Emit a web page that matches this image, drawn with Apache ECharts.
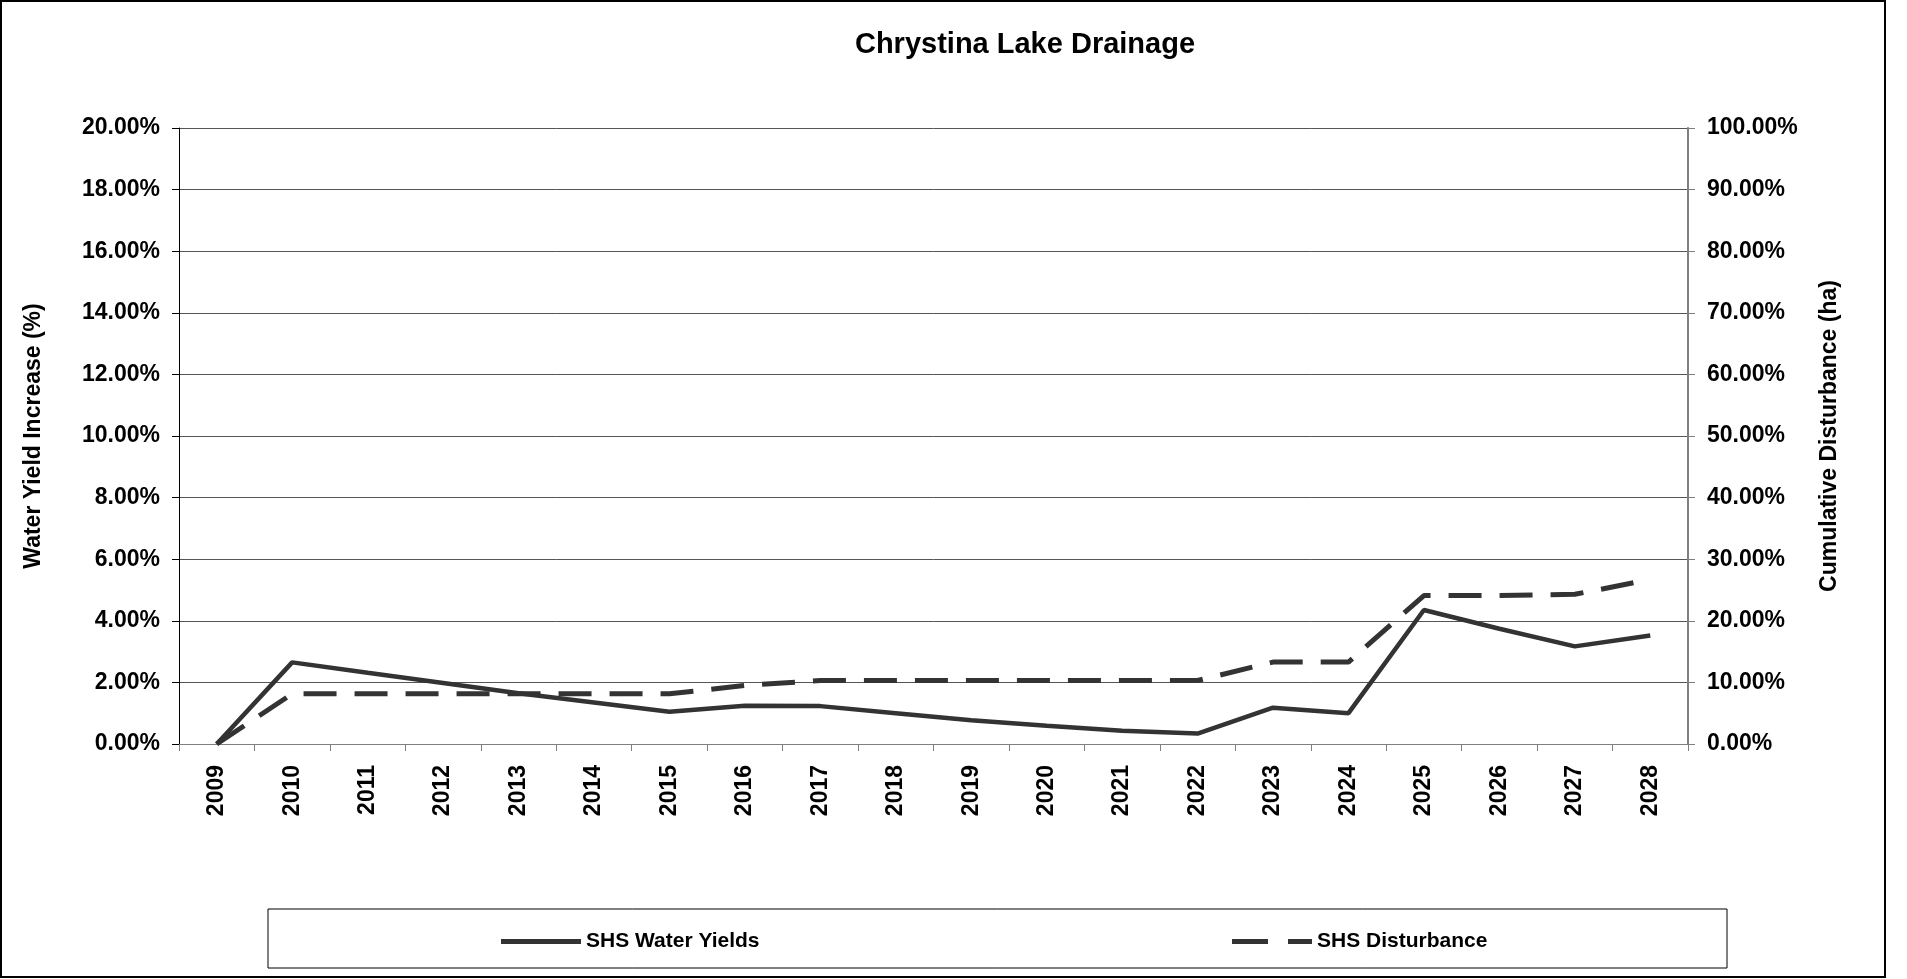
<!DOCTYPE html>
<html>
<head>
<meta charset="utf-8">
<script src="https://cdn.jsdelivr.net/npm/echarts@6/dist/echarts.min.js"></script>
<style>
html,body{margin:0;padding:0;background:#fff;}
#chart{width:1907px;height:979px;}
</style>
</head>
<body>
<div id="chart"></div>
<script>
const years = ['2009','2010','2011','2012','2013','2014','2015','2016','2017','2018','2019','2020','2021','2022','2023','2024','2025','2026','2027','2028'];
const waterYields = [0, 2.65, 2.31, 1.98, 1.65, 1.35, 1.05, 1.24, 1.23, 1.0, 0.77, 0.59, 0.43, 0.34, 1.18, 1.0, 4.35, 3.74, 3.17, 3.52];
const disturbance = [0, 8.15, 8.15, 8.15, 8.15, 8.15, 8.15, 9.5, 10.3, 10.3, 10.3, 10.3, 10.3, 10.3, 13.3, 13.3, 24.1, 24.1, 24.3, 26.7];
const leftTicks = {min: 0, max: 20, interval: 2};
const rightTicks = {min: 0, max: 100, interval: 10};

const FONT = '"Liberation Sans", Arial, sans-serif';
const chart = echarts.init(document.getElementById('chart'), null, {renderer: 'canvas'});
const lineColor = '#333333';
const legendText = {fontFamily: FONT, fontWeight: 'bold', fontSize: 21, color: '#000'};

chart.setOption({
  animation: false,
  backgroundColor: '#ffffff',
  graphic: [
    {type: 'rect', shape: {x: 1, y: 1, width: 1884, height: 976}, style: {fill: 'none', stroke: '#000', lineWidth: 2}, z: -1},
    {type: 'rect', shape: {x: 268, y: 909, width: 1459, height: 59}, style: {fill: '#fff', stroke: '#000', lineWidth: 1}, z: -1},
    {type: 'text', x: 1025, y: 45, style: {text: 'Chrystina Lake Drainage', font: 'bold 29px ' + FONT, fill: '#000', textAlign: 'center', textVerticalAlign: 'middle'}}
  ],
  legend: [
    {data: [{name: 'SHS Water Yields', icon: 'rect', itemStyle: {color: lineColor, borderWidth: 0}}],
     left: 501, top: 931, padding: 0, itemWidth: 80, itemHeight: 5, itemGap: 5, textStyle: legendText},
    {data: [{name: 'SHS Disturbance', icon: 'path://M0,0H36V5H0ZM56,0H80V5H56Z', itemStyle: {color: lineColor, borderColor: lineColor, borderWidth: 0, opacity: 1}}],
     left: 1232, top: 931, padding: 0, itemWidth: 80, itemHeight: 5, itemGap: 5, textStyle: legendText}
  ],
  grid: {left: 179, right: 219, top: 128, bottom: 235, containLabel: false},
  xAxis: {
    type: 'category', data: years, boundaryGap: true,
    axisLine: {lineStyle: {color: '#808080', width: 1}},
    axisTick: {show: true, length: 7, lineStyle: {color: '#808080'}, alignWithLabel: false},
    axisLabel: {rotate: 90, margin: 21, fontFamily: FONT, fontWeight: 'bold', fontSize: 23, color: '#000'},
    splitLine: {show: false}
  },
  yAxis: [
    {
      type: 'value', position: 'left', min: leftTicks.min, max: leftTicks.max, interval: leftTicks.interval,
      name: 'Water Yield Increase (%)', nameLocation: 'middle', nameGap: 134,
      nameTextStyle: {fontFamily: FONT, fontWeight: 'bold', fontSize: 23, color: '#000'},
      axisLine: {show: true, lineStyle: {color: '#000', width: 1}},
      axisTick: {show: true, length: 7, lineStyle: {color: '#000'}},
      axisLabel: {margin: 19, fontFamily: FONT, fontWeight: 'bold', fontSize: 23, color: '#000', formatter: v => v.toFixed(2) + '%'},
      splitLine: {show: true, lineStyle: {color: '#555', width: 1}}
    },
    {
      type: 'value', position: 'right', min: rightTicks.min, max: rightTicks.max, interval: rightTicks.interval,
      name: 'Cumulative Disturbance (ha)', nameLocation: 'middle', nameGap: 130,
      nameTextStyle: {fontFamily: FONT, fontWeight: 'bold', fontSize: 23, color: '#000'},
      axisLine: {show: true, lineStyle: {color: '#808080', width: 2}},
      axisTick: {show: true, length: 7, lineStyle: {color: '#808080'}},
      axisLabel: {margin: 19, fontFamily: FONT, fontWeight: 'bold', fontSize: 23, color: '#000', formatter: v => v.toFixed(2) + '%'},
      splitLine: {show: false}
    }
  ],
  series: [
    {name: 'SHS Water Yields', type: 'line', yAxisIndex: 0, data: waterYields, symbol: 'none', showSymbol: false,
     lineStyle: {color: lineColor, width: 4.5, type: 'solid'}, itemStyle: {color: lineColor}},
    {name: 'SHS Disturbance', type: 'line', yAxisIndex: 1, data: disturbance, symbol: 'none', showSymbol: false,
     lineStyle: {color: lineColor, width: 5, type: [33, 18]}, itemStyle: {color: lineColor}}
  ]
});
</script>
</body>
</html>
